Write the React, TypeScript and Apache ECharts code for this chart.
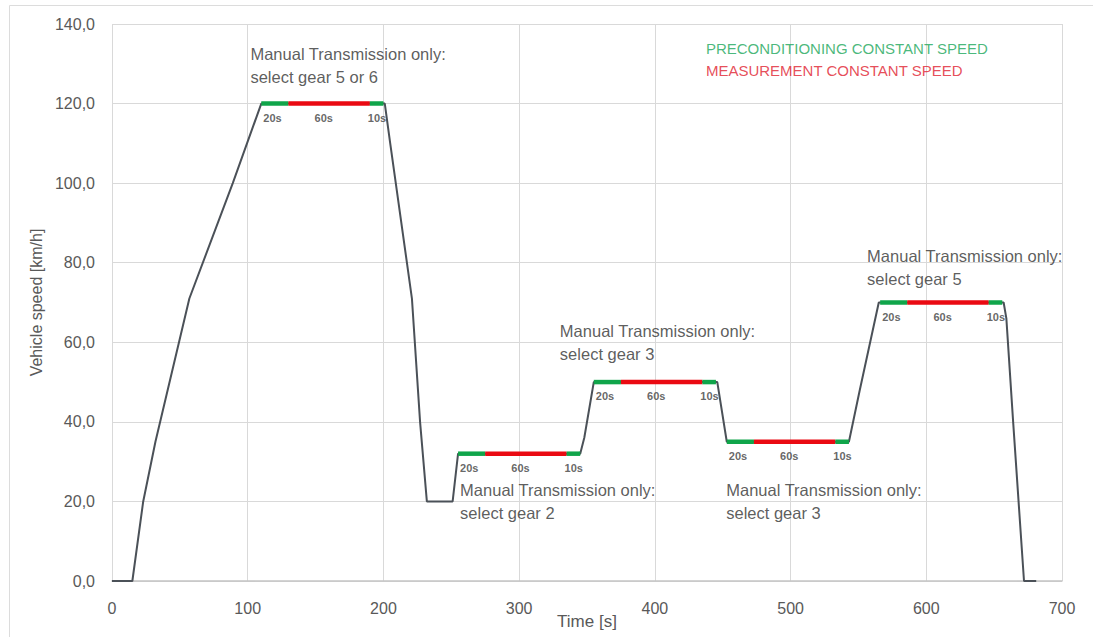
import React, { useEffect, useRef } from "react";
import * as echarts from "echarts";

// Speed profile (time in s, speed in km/h)
const timeS = [0, 15, 23, 32, 57, 89, 110, 201, 205, 221, 227, 232, 251, 255, 345, 348, 355, 446, 453, 543, 551, 565, 657, 659, 664, 672, 681];
const speedKmh = [0, 0, 20, 35, 71, 100, 120, 120, 110, 71, 40, 20, 20, 32, 32, 36, 50, 50, 35, 35, 48, 70, 70, 66, 40, 0, 0];

// Constant speed plateaus
const plateauStart = [110, 255, 355, 453, 566];
const plateauSpeed = [120, 32, 50, 35, 70];
const phaseDur = [20, 60, 10];
const phaseLabels = ["20s", "60s", "10s"];

// Annotations
const noteTime = [102, 256.5, 330, 452.6, 556.4];
const noteSpeed = [129.5, 20.1, 59.9, 20.1, 78.7];
const noteGear = ["5 or 6", "2", "3", "3", "5"];

const legendLabels = ["PRECONDITIONING CONSTANT SPEED", "MEASUREMENT CONSTANT SPEED"];
const legendTime = [437.6, 437.6];
const legendSpeed = [133.8, 128.2];

const xMin = 0, xMax = 700, xStep = 100;
const yMin = 0, yMax = 140, yStep = 20;

const GREEN = "#10a54a";
const RED = "#ea0a12";
const FONT = "'Liberation Sans', Arial, sans-serif";

export default function App() {
  const ref = useRef<HTMLDivElement>(null);
  useEffect(() => {
    if (!ref.current) return;
    const chart = echarts.init(ref.current, null, { renderer: "svg" });

    const plateauSeries: any[] = [];
    const phaseLabelData: any[] = [];
    plateauStart.forEach((s, pi) => {
      const v = plateauSpeed[pi];
      let t0 = s;
      phaseDur.forEach((d, k) => {
        const t1 = t0 + d;
        plateauSeries.push({
          type: "line",
          data: [[t0, v], [t1, v]],
          symbol: "none",
          silent: true,
          z: 4,
          lineStyle: { color: k === 1 ? RED : GREEN, width: 4.5, cap: "butt" },
        });
        let lx = t0 + 1.5, align = "left";
        if (k === 1) { lx = s + 46; align = "center"; }
        if (k === 2) { lx = t1 + 2; align = "right"; }
        phaseLabelData.push({
          value: [lx, v],
          label: { formatter: phaseLabels[k], align },
        });
        t0 = t1;
      });
    });

    const noteData = noteTime.map((t, i) => ({
      value: [t, noteSpeed[i]],
      label: { formatter: "Manual Transmission only:\nselect gear " + noteGear[i] },
    }));

    const legendData = legendLabels.map((txt, i) => ({
      value: [legendTime[i], legendSpeed[i]],
      label: { formatter: txt, color: i === 0 ? "#19a659" : "#e0202e" },
    }));

    const textScatter = (data: any[], label: any, z = 6) => ({
      type: "scatter",
      data,
      symbolSize: 1,
      silent: true,
      z,
      itemStyle: { color: "rgba(0,0,0,0)" },
      label: { show: true, position: "inside", verticalAlign: "middle", fontFamily: FONT, ...label },
    });

    chart.setOption({
      animation: false,
      backgroundColor: "#ffffff",
      textStyle: { fontFamily: FONT },
      grid: { left: 112, right: 31, top: 24, bottom: 56, containLabel: false, outerBoundsMode: "none" },
      graphic: [
        {
          type: "rect",
          left: 7,
          top: 3,
          shape: { width: 1100, height: 633 },
          style: { fill: "none", stroke: "#dcdcdc", lineWidth: 1 },
          silent: true,
          z: -10,
        },
      ],
      xAxis: {
        type: "value",
        min: xMin,
        max: xMax,
        interval: xStep,
        name: "Time [s]",
        nameLocation: "middle",
        nameGap: 32,
        nameMoveOverlap: false,
        nameTextStyle: { color: "#595959", fontSize: 17, fontFamily: FONT },
        axisLine: { show: true, lineStyle: { color: "#c4c4c4", width: 1.5 } },
        axisTick: { show: false },
        axisLabel: { color: "#595959", fontSize: 16, margin: 19, fontFamily: FONT },
        splitLine: { show: true, lineStyle: { color: "#d9d9d9", width: 1 } },
      },
      yAxis: {
        type: "value",
        min: yMin,
        max: yMax,
        interval: yStep,
        name: "Vehicle speed [km/h]",
        nameLocation: "middle",
        nameGap: 68,
        nameMoveOverlap: false,
        nameTextStyle: { color: "#595959", fontSize: 16, fontFamily: FONT },
        axisLine: { show: false },
        axisTick: { show: false },
        axisLabel: {
          color: "#595959",
          fontSize: 16,
          margin: 17,
          fontFamily: FONT,
          formatter: (v: number) => v.toFixed(1).replace(".", ","),
        },
        splitLine: { show: true, lineStyle: { color: "#d9d9d9", width: 1 } },
      },
      series: [
        {
          type: "line",
          data: timeS.map((t, i) => [t, speedKmh[i]]),
          symbol: "none",
          silent: true,
          z: 3,
          lineStyle: { color: "#4b5158", width: 2 },
        },
        ...plateauSeries,
        textScatter(phaseLabelData, { offset: [0, 14], fontSize: 11, color: "#404040", fontWeight: "bold" }),
        textScatter(noteData, { align: "left", fontSize: 16.5, color: "#333333", lineHeight: 23 }),
        textScatter(legendData, { align: "left", fontSize: 15 }),
      ],
    });
    return () => chart.dispose();
  }, []);
  return (
    <div
      ref={ref}
      style={{ position: "absolute", left: 0, top: 0, width: 1093, height: 637 }}
    />
  );
}
